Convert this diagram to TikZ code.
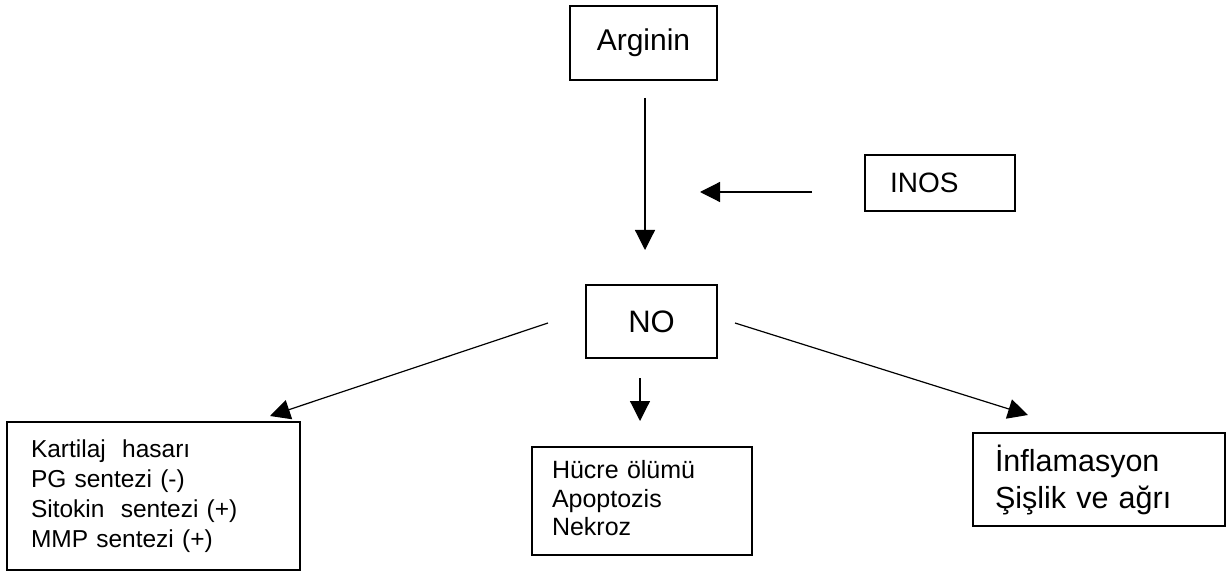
\documentclass[tikz,border=0pt]{standalone}
\usepackage{fontspec}
\setmainfont{Liberation Sans}
\usetikzlibrary{arrows.meta}
\begin{document}
\begin{tikzpicture}[x=1pt,y=-1pt,
  box/.style={draw,line width=1.3pt,inner sep=0pt},
  arr/.style={line width=1.2pt,-{Triangle[length=20pt,width=20pt]}}]
\useasboundingbox (0,0) rectangle (1227,572);
% boxes
\node[box,minimum width=147pt,minimum height=74pt,font=\fontsize{30}{34}\selectfont] (arg) at (643.5,43) {Arginin};
\node[box,minimum width=131pt,minimum height=73pt,font=\fontsize{31}{34}\selectfont] (no) at (651.5,321.5) {NO};
\node[box,minimum width=150pt,minimum height=56pt,font=\fontsize{28}{32}\selectfont,align=left,text width=100pt] (inos) at (940,183) {INOS};
\node[box,minimum width=293pt,minimum height=148pt,align=left,text width=245pt,font=\fontsize{24.5}{30}\selectfont] (left) at (153.5,496)
  {Kartilaj\ \ hasarı\\PG sentezi (-)\\Sitokin\ \ sentezi (+)\\MMP sentezi (+)};
\node[box,minimum width=220pt,minimum height=108pt,align=left,text width=180pt,font=\fontsize{25}{28.5}\selectfont] (mid) at (642,501)
  {Hücre ölümü\\Apoptozis\\Nekroz\vspace{5pt}};
\node[box,minimum width=252pt,minimum height=93pt,align=left,text width=208pt,font=\fontsize{30.5}{37}\selectfont] (right) at (1099,479.5)
  {İnflamasyon\\Şişlik ve ağrı};
% connector end points
\coordinate (a1) at (645,98);
\coordinate (a2) at (645,250);
\coordinate (i1) at (812,192);
\coordinate (i2) at (700,192);
\coordinate (l1) at (548,323);
\coordinate (l2) at (270,416);
\coordinate (m1) at (640,378);
\coordinate (m2) at (640,421);
\coordinate (r1) at (735,323);
\coordinate (r2) at (1028,415);
\draw[arr] (a1) -- (a2);
\draw[arr] (i1) -- (i2);
\draw[arr] (l1) -- (l2);
\draw[arr] (m1) -- (m2);
\draw[arr] (r1) -- (r2);
\end{tikzpicture}
\end{document}
